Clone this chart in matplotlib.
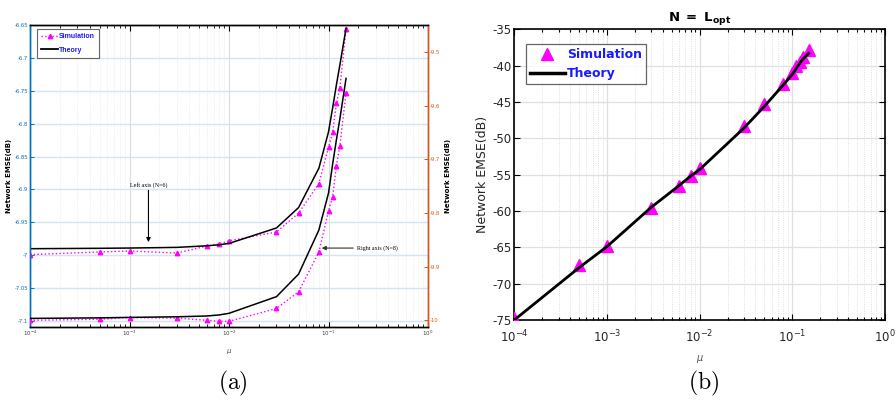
import numpy as np
import matplotlib
matplotlib.use('Agg')
import matplotlib.pyplot as plt
from matplotlib.ticker import LogLocator, NullFormatter, FixedLocator, FixedFormatter
from matplotlib.lines import Line2D

plt.rcParams['axes.unicode_minus'] = False

# ---------------- data ----------------
mu = [1e-4, 5e-4, 1e-3, 3e-3, 6e-3, 8e-3, 1e-2, 3e-2, 5e-2, 8e-2, 0.1, 0.11, 0.12, 0.13, 0.15]

# panel (a), left axis (N=6)
sim_n6 = [-6.999, -6.995, -6.9935, -6.9966, -6.986, -6.983, -6.978, -6.9646,
          -6.936, -6.891, -6.836, -6.813, -6.769, -6.746, -6.656]
theory_n6 = [-6.990, -6.9894, -6.989, -6.988, -6.9856, -6.984, -6.982, -6.9585,
             -6.9275, -6.8677, -6.8124, -6.776, -6.741, -6.711, -6.655]

# panel (a), right axis (N=8)
sim_n8 = [-10.0, -9.998, -9.995, -9.996, -10.0, -10.002, -10.002, -9.978,
          -9.947, -9.873, -9.796, -9.770, -9.712, -9.675, -9.576]
theory_n8 = [-9.9965, -9.9955, -9.9946, -9.9935, -9.992, -9.990, -9.987, -9.956,
             -9.914, -9.832, -9.763, -9.709, -9.664, -9.625, -9.5495]

# panel (b)
sim_b = [-74.7, -67.5, -64.86, -59.6, -56.6, -55.25, -54.1, -48.3, -45.3,
         -42.55, -40.96, -40.1, -39.45, -38.76, -37.84]
theory_b = [-75.0, -67.8, -64.9, -59.5, -56.5, -55.2, -54.3, -48.6, -45.6,
            -42.65, -41.2, -40.4, -39.7, -39.1, -38.3]

left_ticks = [-7.1, -7.05, -7.0, -6.95, -6.9, -6.85, -6.8, -6.75, -6.7, -6.65]
right_ticks = [-10.0, -9.9, -9.8, -9.7, -9.6, -9.5]
b_yticks = [-75, -70, -65, -60, -55, -50, -45, -40, -35]
xticks_log = [1e-4, 1e-3, 1e-2, 1e-1, 1e0]
xtick_labels = [r'$10^{-4}$', r'$10^{-3}$', r'$10^{-2}$', r'$10^{-1}$', r'$10^{0}$']

BLUE = '#0072BD'
ORANGE = '#D95319'
MAG = '#FF00FF'

fig = plt.figure(figsize=(8.96, 4.03), dpi=100)

# ================= panel (a) =================
ax1 = fig.add_axes([0.0335, 0.1886, 0.4442, 0.7494])
ax1.set_xscale('log')
ax1.set_xlim(1e-4, 1)
ax1.set_ylim(-7.109, -6.65)
ax2 = ax1.twinx()
ax2.set_ylim(-10.0125, -9.45)

ax1.plot(mu, sim_n6, linestyle=':', color=MAG, lw=1.0, marker='^', ms=3.2,
         mfc=MAG, mec=MAG, zorder=3)
ax1.plot(mu, theory_n6, color='black', lw=1.1, zorder=3)
ax2.plot(mu, sim_n8, linestyle=':', color=MAG, lw=1.0, marker='^', ms=3.2,
         mfc=MAG, mec=MAG, zorder=3)
ax2.plot(mu, theory_n8, color='black', lw=1.1, zorder=3)

ax1.xaxis.set_major_locator(FixedLocator(xticks_log))
ax1.xaxis.set_major_formatter(FixedFormatter(xtick_labels))
ax1.xaxis.set_minor_locator(LogLocator(base=10, subs=np.arange(2, 10), numticks=20))
ax1.xaxis.set_minor_formatter(NullFormatter())
ax1.yaxis.set_major_locator(FixedLocator(left_ticks))
ax1.yaxis.set_major_formatter(FixedFormatter([f'{v:g}' for v in left_ticks]))
ax2.yaxis.set_major_locator(FixedLocator(right_ticks))
ax2.yaxis.set_major_formatter(FixedFormatter([f'{v:g}' for v in right_ticks]))

ax1.tick_params(axis='x', which='both', direction='in', top=True, labelsize=4.0,
                labelcolor='#404040', pad=1.5)
ax1.tick_params(axis='x', which='major', length=4, width=0.8)
ax1.tick_params(axis='x', which='minor', length=2.5, width=0.6)
ax1.tick_params(axis='y', direction='in', length=3, width=0.7, colors=BLUE,
                labelsize=3.8, pad=1.5)
ax2.tick_params(axis='y', direction='in', length=3, width=0.7, colors=ORANGE,
                labelsize=3.8, pad=1.5)

for a in (ax1, ax2):
    a.spines['left'].set_color(BLUE)
    a.spines['right'].set_color(ORANGE)
    a.spines['top'].set_color('black')
    a.spines['bottom'].set_color('black')
    for s in a.spines.values():
        s.set_linewidth(1.0)

ax1.grid(which='major', axis='x', color='#dcdcdc', lw=0.8, ls='-')
ax1.grid(which='minor', axis='x', color='#e2e2e2', lw=0.5, ls=':')
ax1.grid(which='major', axis='y', color='#d2e5f3', lw=1.0, ls='-')
ax1.set_axisbelow(True)

ax1.set_xlabel(r'$\mu$', fontsize=5, color='#505050', labelpad=6)
ax1.set_ylabel('Network EMSE(dB)', fontsize=5, fontweight='bold', labelpad=2)
ax2.set_ylabel('Network EMSE(dB)', fontsize=5, fontweight='bold', labelpad=3)

ax1.annotate('Left axis (N=6)', xy=(1.55e-3, -6.980), xytext=(1.55e-3, -6.897),
             fontsize=4.3, family='Liberation Serif', ha='center', va='bottom',
             arrowprops=dict(arrowstyle='-|>', color='black', lw=0.8,
                             mutation_scale=6, shrinkA=0, shrinkB=0), zorder=6)
ax2.annotate('Right axis (N=8)', xy=(0.0854, -9.8655), xytext=(0.195, -9.8655),
             fontsize=4.3, family='Liberation Serif', ha='left', va='center',
             arrowprops=dict(arrowstyle='-|>', color='#303030', lw=0.8,
                             mutation_scale=6, shrinkA=1, shrinkB=0), zorder=6)

h_sim = Line2D([], [], linestyle=':', color=MAG, lw=1.0, marker='^', ms=3.2,
               mfc=MAG, mec=MAG)
h_th = Line2D([], [], color='black', lw=1.3)
leg1 = ax2.legend([h_sim, h_th], ['Simulation', 'Theory'], loc='upper left',
                  bbox_to_anchor=(0.0176, 0.987),
                  prop={'family': ['Liberation Sans Narrow', 'Liberation Sans'],
                        'weight': 'bold', 'size': 5.0},
                  frameon=True, fancybox=False, edgecolor='#404040',
                  borderpad=0.6, handlelength=2.4, handletextpad=0.2,
                  labelspacing=0.95, borderaxespad=0)
leg1.get_frame().set_linewidth(0.8)
for t in leg1.get_texts():
    t.set_color('#1a1aff')

# ================= panel (b) =================
ax3 = fig.add_axes([0.574, 0.206, 0.4137, 0.7213])
ax3.set_xscale('log')
ax3.set_xlim(1e-4, 1)
ax3.set_ylim(-75, -35)
ax3.plot(mu, sim_b, linestyle='none', marker='^', ms=9, mfc=MAG, mec=MAG, zorder=3)
ax3.plot(mu, theory_b, color='black', lw=2.0, zorder=4)

ax3.xaxis.set_major_locator(FixedLocator(xticks_log))
ax3.xaxis.set_major_formatter(FixedFormatter(xtick_labels))
ax3.xaxis.set_minor_locator(LogLocator(base=10, subs=np.arange(2, 10), numticks=20))
ax3.xaxis.set_minor_formatter(NullFormatter())
ax3.yaxis.set_major_locator(FixedLocator(b_yticks))
ax3.yaxis.set_major_formatter(FixedFormatter([f'{v:g}' for v in b_yticks]))

ax3.tick_params(axis='both', which='both', direction='in', top=True, right=True,
                labelsize=8.5, labelcolor='#262626', width=0.8)
ax3.tick_params(axis='both', which='major', length=4)
ax3.tick_params(axis='x', which='major', pad=6)
ax3.tick_params(axis='y', which='major', pad=2)
ax3.tick_params(axis='x', which='minor', length=2.5)
for s in ax3.spines.values():
    s.set_linewidth(1.2)
    s.set_color('black')

ax3.grid(which='major', axis='both', color='#e0e0e0', lw=0.9, ls='-')
ax3.grid(which='minor', axis='x', color='#d6d6d6', lw=0.6, ls=':')
ax3.set_axisbelow(True)

ax3.set_xlabel(r'$\mu$', fontsize=7, color='#505050', labelpad=6)
ax3.set_ylabel('Network EMSE(dB)', fontsize=9, color='#262626', labelpad=2)
ax3.set_title(r'$\mathbf{N\ =\ L_{opt}}$', fontsize=9.5, pad=6)

h_sim_b = Line2D([], [], linestyle='none', marker='^', ms=9, mfc=MAG, mec=MAG)
h_th_b = Line2D([], [], color='black', lw=2.5)
leg2 = ax3.legend([h_sim_b, h_th_b], ['Simulation', 'Theory'], loc='upper left',
                  bbox_to_anchor=(0.031, 0.948),
                  prop={'weight': 'bold', 'size': 9},
                  frameon=True, fancybox=False, edgecolor='#404040',
                  borderpad=0.3, handlelength=2.8, handletextpad=0.2,
                  labelspacing=0.5, borderaxespad=0)
leg2.get_frame().set_linewidth(0.9)
for t in leg2.get_texts():
    t.set_color('#1a1aff')

# captions
fig.text(233 / 896, 1 - 383 / 403, r'$\mathrm{(a)}$', fontsize=17, ha='center',
         va='center', math_fontfamily='cm')
fig.text(704 / 896, 1 - 383 / 403, r'$\mathrm{(b)}$', fontsize=17, ha='center',
         va='center', math_fontfamily='cm')

fig.savefig('out.png', dpi=100)
